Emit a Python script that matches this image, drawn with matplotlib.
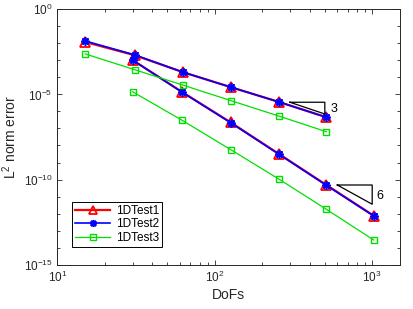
import matplotlib
matplotlib.use('Agg')
import matplotlib.pyplot as plt
import numpy as np
from matplotlib.ticker import LogLocator, NullFormatter

plt.rcParams['font.family'] = ['Liberation Sans', 'DejaVu Sans']
plt.rcParams['mathtext.fontset'] = 'custom'
plt.rcParams['mathtext.rm'] = 'Liberation Sans'
plt.rcParams['mathtext.it'] = 'Liberation Sans:italic'

# DoFs for the two refinement families
dofs_a = [15, 31, 63, 127, 255, 511]
dofs_b = [30, 62, 126, 254, 510, 1022]

# log10 of the L2 error
test1_a = [-1.92, -2.70, -3.70, -4.58, -5.44, -6.34]
test1_b = [-2.98, -4.86, -6.64, -8.48, -10.31, -12.12]
test2_a = [-1.86, -2.68, -3.70, -4.58, -5.44, -6.34]
test2_b = [-2.98, -4.87, -6.66, -8.50, -10.33, -12.14]
test3_a = [-2.62, -3.55, -4.46, -5.37, -6.27, -7.19]
test3_b = [-4.84, -6.52, -8.24, -9.96, -11.74, -13.55]

# slope triangles
tri3_x = [300, 500, 500, 300]
tri3_y = [-5.46, -5.46, -6.15, -5.46]
tri6_x = [600, 1000, 1000, 600]
tri6_y = [-10.32, -10.32, -11.45, -10.32]

fig = plt.figure(figsize=(4.13, 3.09), dpi=100)
ax = fig.add_axes([0.139, 0.1434, 0.8293, 0.8266])

p = lambda v: 10.0 ** np.array(v)

ax.loglog(dofs_a, p(test1_a), '-^', color='red', lw=1.6, ms=6.5, mfc='none', mew=1.3, label='1DTest1')
ax.loglog(dofs_b, p(test1_b), '-^', color='red', lw=1.6, ms=6.5, mfc='none', mew=1.3)
ax.loglog(dofs_a, p(test2_a), '-', color='blue', marker=(8, 2, 0), lw=1.2, ms=6, mew=1.2, label='1DTest2')
ax.loglog(dofs_b, p(test2_b), '-', color='blue', marker=(8, 2, 0), lw=1.2, ms=6, mew=1.2)
ax.loglog(dofs_a, p(test3_a), '-s', color='#00e000', lw=0.9, ms=5, mfc='none', mew=1.0, label='1DTest3')
ax.loglog(dofs_b, p(test3_b), '-s', color='#00e000', lw=0.9, ms=5, mfc='none', mew=1.0)

ax.plot(tri3_x, p(tri3_y), color='black', lw=0.9)
ax.plot(tri6_x, p(tri6_y), color='black', lw=0.9)
ax.text(545, 10 ** -5.85, '3', fontsize=9, va='center', ha='left')
ax.text(1060, 10 ** -10.95, '6', fontsize=9, va='center', ha='left')

ax.set_xlim(10, 1500)
ax.set_ylim(1e-15, 1)
ax.set_yticks([1e-15, 1e-10, 1e-5, 1])
ax.yaxis.set_minor_locator(LogLocator(base=10, subs=(1.0,), numticks=30))
ax.yaxis.set_minor_formatter(NullFormatter())
ax.xaxis.set_minor_locator(LogLocator(base=10, subs=np.arange(2, 10), numticks=30))
ax.xaxis.set_minor_formatter(NullFormatter())

ax.tick_params(which='both', direction='in', top=True, right=True, labelsize=8.5, colors='#262626')
ax.tick_params(which='major', length=3.5, width=0.6)
ax.tick_params(which='minor', length=2, width=0.6)
for s in ax.spines.values():
    s.set_linewidth(0.7)
    s.set_color('#262626')

ax.set_xlabel('DoFs', fontsize=10, labelpad=2, color='#262626')
ax.set_ylabel('L$^2$ norm error', fontsize=10, labelpad=3, color='#262626')

leg = ax.legend(loc='lower left', bbox_to_anchor=(0.044, 0.07), borderaxespad=0,
                fontsize=8.5, fancybox=False, edgecolor='black', framealpha=1,
                handlelength=2.9, borderpad=0.25, labelspacing=0.12, handletextpad=0.5,
                markerscale=0.85)
leg.get_frame().set_linewidth(0.7)

fig.savefig('out.png', dpi=100)
